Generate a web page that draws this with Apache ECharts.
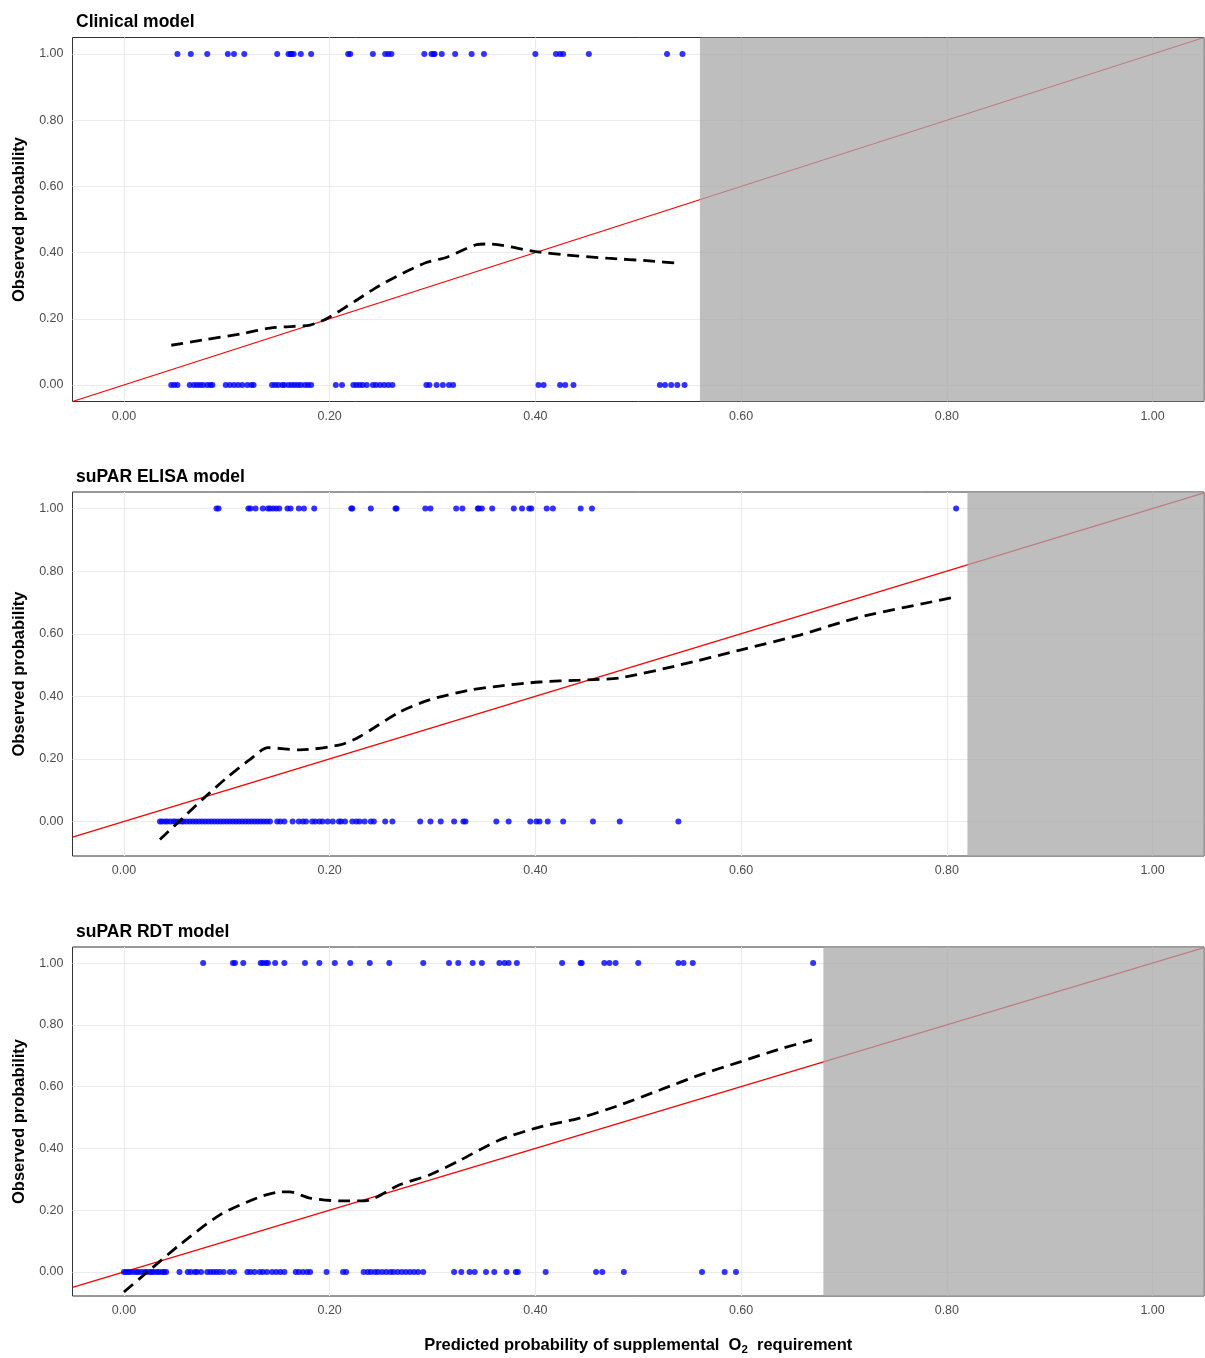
<!DOCTYPE html>
<html>
<head>
<meta charset="utf-8">
<script src="https://cdn.jsdelivr.net/npm/echarts@6/dist/echarts.min.js"></script>
<style>
  html, body { margin: 0; padding: 0; background: #fff; }
  #chart { width: 1205px; height: 1358px; }
</style>
</head>
<body>
<div id="chart"></div>
<script>
// Calibration plots: observed vs predicted probability for three models.
const tickValues = [0, 0.2, 0.4, 0.6, 0.8, 1.0];
const panelTitles = ['Clinical model', 'suPAR ELISA model', 'suPAR RDT model'];

// Predicted probabilities of patients with the outcome (observed = 1)
const clinicalEvents = [0.052,0.065,0.081,0.101,0.107,0.117,0.149,0.160,0.162,0.163,0.165,0.172,0.182,0.218,0.220,0.242,0.254,0.257,0.260,0.292,0.299,0.301,0.302,0.309,0.322,0.338,0.350,0.400,0.420,0.424,0.427,0.452,0.528,0.543];
// Predicted probabilities of patients without the outcome (observed = 0)
const clinicalNonEvents = [0.046,0.049,0.052,0.064,0.068,0.071,0.074,0.077,0.081,0.084,0.086,0.099,0.103,0.107,0.111,0.115,0.120,0.124,0.126,0.144,0.147,0.150,0.154,0.156,0.160,0.163,0.166,0.169,0.172,0.176,0.179,0.182,0.206,0.212,0.223,0.226,0.229,0.232,0.236,0.242,0.245,0.249,0.253,0.257,0.261,0.294,0.297,0.304,0.310,0.316,0.320,0.403,0.408,0.424,0.429,0.437,0.521,0.526,0.532,0.538,0.545];
const clinicalSmoothX = [0.046,0.079,0.113,0.142,0.165,0.181,0.197,0.224,0.244,0.265,0.294,0.314,0.343,0.355,0.400,0.429,0.470,0.511,0.541];
const clinicalSmoothY = [0.120,0.137,0.154,0.172,0.177,0.181,0.200,0.252,0.292,0.328,0.370,0.386,0.424,0.426,0.403,0.393,0.383,0.375,0.367];

const elisaEvents = [0.090,0.092,0.121,0.123,0.128,0.135,0.140,0.142,0.145,0.148,0.151,0.159,0.162,0.170,0.175,0.185,0.221,0.222,0.240,0.264,0.265,0.293,0.298,0.323,0.329,0.344,0.345,0.348,0.358,0.379,0.387,0.394,0.396,0.411,0.417,0.444,0.455,0.809];
const elisaNonEvents = [0.035,0.037,0.040,0.042,0.045,0.048,0.050,0.053,0.056,0.058,0.061,0.064,0.067,0.070,0.073,0.076,0.079,0.082,0.085,0.088,0.091,0.094,0.097,0.100,0.103,0.106,0.109,0.112,0.115,0.118,0.121,0.124,0.127,0.130,0.133,0.136,0.139,0.142,0.149,0.152,0.156,0.164,0.170,0.174,0.177,0.183,0.186,0.190,0.193,0.198,0.203,0.209,0.211,0.215,0.222,0.226,0.229,0.234,0.240,0.243,0.254,0.261,0.288,0.298,0.308,0.321,0.330,0.332,0.362,0.374,0.395,0.401,0.404,0.412,0.427,0.456,0.482,0.539];
const elisaSmoothX = [0.035,0.060,0.079,0.100,0.122,0.140,0.171,0.210,0.229,0.268,0.297,0.336,0.365,0.404,0.443,0.482,0.540,0.599,0.657,0.715,0.808];
const elisaSmoothY = [-0.057,0.020,0.079,0.140,0.197,0.236,0.229,0.245,0.271,0.350,0.389,0.420,0.433,0.446,0.452,0.459,0.500,0.548,0.596,0.653,0.717];

const rdtEvents = [0.077,0.106,0.108,0.116,0.133,0.135,0.138,0.140,0.147,0.156,0.176,0.190,0.205,0.220,0.239,0.258,0.291,0.316,0.325,0.339,0.348,0.365,0.370,0.374,0.382,0.426,0.444,0.445,0.467,0.472,0.478,0.500,0.539,0.544,0.553,0.670];
const rdtNonEvents = [0.000,0.002,0.004,0.006,0.009,0.012,0.014,0.017,0.020,0.022,0.025,0.027,0.029,0.032,0.034,0.037,0.039,0.041,0.054,0.062,0.065,0.069,0.071,0.075,0.081,0.084,0.087,0.090,0.093,0.097,0.103,0.107,0.120,0.123,0.127,0.132,0.135,0.139,0.144,0.148,0.152,0.156,0.167,0.170,0.174,0.178,0.181,0.197,0.213,0.216,0.233,0.237,0.240,0.244,0.247,0.251,0.255,0.259,0.262,0.266,0.270,0.274,0.278,0.282,0.286,0.291,0.321,0.328,0.336,0.341,0.352,0.360,0.372,0.381,0.383,0.410,0.459,0.465,0.486,0.562,0.584,0.595];
const rdtSmoothX = [0.000,0.025,0.054,0.093,0.130,0.152,0.161,0.181,0.210,0.234,0.268,0.297,0.327,0.365,0.404,0.443,0.482,0.521,0.560,0.599,0.638,0.669];
const rdtSmoothY = [-0.065,0.006,0.087,0.184,0.240,0.259,0.259,0.239,0.230,0.230,0.282,0.314,0.362,0.427,0.469,0.498,0.540,0.589,0.638,0.680,0.722,0.751];

// Region beyond the largest prediction, shaded grey
const shadeStart = [0.56, 0.82, 0.68];

const xRange = [-0.05, 1.05];
const yRanges = [[-0.05, 1.05], [-0.11, 1.053], [-0.078, 1.052]];

const panels = [
  { events: clinicalEvents, nonEvents: clinicalNonEvents, sx: clinicalSmoothX, sy: clinicalSmoothY },
  { events: elisaEvents, nonEvents: elisaNonEvents, sx: elisaSmoothX, sy: elisaSmoothY },
  { events: rdtEvents, nonEvents: rdtNonEvents, sx: rdtSmoothX, sy: rdtSmoothY }
];

// Layout of each panel box (px)
const gridBoxes = [
  { top: 37.5, height: 364 },
  { top: 492, height: 364 },
  { top: 947, height: 349 }
];

const FONT = 'Liberation Sans, Arial, Helvetica, sans-serif';
const fmt = v => v.toFixed(2);

const option = {
  animation: false,
  textStyle: { fontFamily: FONT },
  title: panelTitles.map((t, i) => ({
    text: t,
    left: 71,
    top: gridBoxes[i].top - 29,
    textStyle: { fontFamily: FONT, fontWeight: 'bold', fontSize: 17.5, color: '#000' }
  })),
  grid: gridBoxes.map(b => ({
    left: 72.5, width: 1131.5, top: b.top, height: b.height,
    show: true, borderColor: '#333333', borderWidth: 1, backgroundColor: 'transparent'
  })),
  xAxis: panels.map((p, i) => ({
    type: 'value', gridIndex: i, min: xRange[0], max: xRange[1],
    axisLine: { show: false },
    axisTick: { show: true, length: 4, customValues: tickValues, lineStyle: { color: '#333333' } },
    axisLabel: { customValues: tickValues, formatter: fmt, color: '#4D4D4D', fontSize: 12.5, margin: 8.5, fontFamily: FONT },
    splitLine: { show: false },
    name: i === 2 ? 'Predicted probability of supplemental  O{sub|2}  requirement' : '',
    nameLocation: 'middle',
    nameGap: 39,
    nameTextStyle: {
      fontFamily: FONT, fontWeight: 'bold', fontSize: 16.5, color: '#000',
      rich: { sub: { fontFamily: FONT, fontWeight: 'bold', fontSize: 11.5, color: '#000', padding: [9, 0, 0, 0] } }
    }
  })),
  yAxis: panels.map((p, i) => ({
    type: 'value', gridIndex: i, min: yRanges[i][0], max: yRanges[i][1],
    axisLine: { show: false },
    axisTick: { show: true, length: 4, customValues: tickValues, lineStyle: { color: '#333333' } },
    axisLabel: { customValues: tickValues, formatter: fmt, color: '#4D4D4D', fontSize: 12.5, margin: 9, fontFamily: FONT },
    splitLine: { show: false },
    name: 'Observed probability',
    nameLocation: 'middle',
    nameGap: 45,
    nameTextStyle: { fontFamily: FONT, fontWeight: 'bold', fontSize: 16.5, color: '#000' }
  })),
  series: []
};

panels.forEach((p, i) => {
  // background grid lines
  option.series.push({
    type: 'line', xAxisIndex: i, yAxisIndex: i, data: [], z: 1, silent: true,
    markLine: {
      z: 1, silent: true, symbol: 'none', label: { show: false },
      lineStyle: { color: '#EBEBEB', width: 1.1, type: 'solid' },
      data: tickValues.map(v => ({ xAxis: v })).concat(tickValues.map(v => ({ yAxis: v })))
    }
  });
  // ideal calibration line y = x
  option.series.push({
    type: 'line', xAxisIndex: i, yAxisIndex: i, z: 2, silent: true, clip: true,
    showSymbol: false, symbol: 'none',
    lineStyle: { color: '#FF0000', width: 1.3 },
    data: [[xRange[0], xRange[0]], [xRange[1], xRange[1]]]
  });
  // observed outcomes
  option.series.push({
    type: 'scatter', xAxisIndex: i, yAxisIndex: i, z: 4, silent: true,
    symbolSize: 6,
    itemStyle: { color: '#0000FF' },
    data: p.events.map(x => [x, 1]).concat(p.nonEvents.map(x => [x, 0]))
  });
  // smoothed calibration curve
  option.series.push({
    type: 'line', xAxisIndex: i, yAxisIndex: i, z: 5, silent: true,
    showSymbol: false, symbol: 'none', smooth: 0.25,
    lineStyle: { color: '#000000', width: 2.8, type: [12, 7] },
    data: p.sx.map((x, k) => [x, p.sy[k]])
  });
  // grey band over the unsupported prediction range
  option.series.push({
    type: 'line', xAxisIndex: i, yAxisIndex: i, data: [], z: 6, silent: true,
    markArea: {
      z: 6, silent: true,
      itemStyle: { color: 'rgba(168,168,168,0.75)' },
      data: [[{ xAxis: shadeStart[i] }, { xAxis: xRange[1] }]]
    }
  });
});

const chart = echarts.init(document.getElementById('chart'), null, { renderer: 'canvas' });
chart.setOption(option);
</script>
</body>
</html>
